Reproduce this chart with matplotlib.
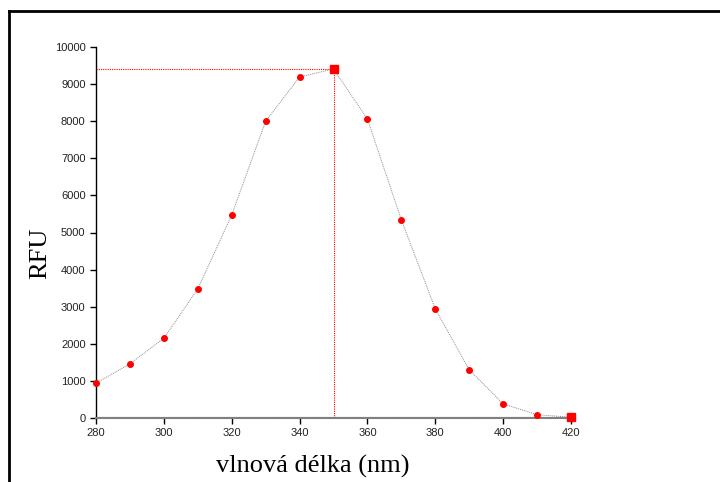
import matplotlib
matplotlib.use("Agg")
import matplotlib.pyplot as plt
from matplotlib.lines import Line2D

# wavelength (nm) vs fluorescence (RFU)
wavelength = [280, 290, 300, 310, 320, 330, 340, 350, 360, 370, 380, 390, 400, 410, 420]
rfu = [940, 1460, 2150, 3480, 5470, 8000, 9190, 9410, 8060, 5340, 2940, 1300, 380, 90, 20]

peak_x = 350
peak_y = 9410

fig = plt.figure(figsize=(7.2, 4.82), dpi=100)
ax = fig.add_axes([96 / 720, 1 - 418 / 482, 475 / 720, 371 / 482])

# outer frame (left and top edges visible)
fig.add_artist(Line2D([9 / 720, 9 / 720], [0, 1 - 11 / 482], transform=fig.transFigure,
                      color="black", lw=2))
fig.add_artist(Line2D([9 / 720, 1], [1 - 11 / 482, 1 - 11 / 482], transform=fig.transFigure,
                      color="black", lw=2))

# guide lines to the maximum
ax.plot([wavelength[0], peak_x], [peak_y, peak_y], color="red", lw=0.8, ls=(0, (1, 1)), zorder=2)
ax.plot([peak_x, peak_x], [0, peak_y], color="red", lw=0.8, ls=(0, (1, 1)), zorder=2)
ax.plot([wavelength[0], wavelength[-1]], [rfu[-1], rfu[-1]], color="red", lw=0.8,
        ls=(0, (1, 1)), zorder=2)

ax.plot(wavelength, rfu, color="#8c8c8c", lw=0.7, ls=(0, (1, 1)), zorder=3)
ax.plot(wavelength, rfu, "o", color="red", ms=4, mec="red", zorder=4, clip_on=False)
ax.plot([peak_x, wavelength[-1]], [peak_y, rfu[-1]], "s", color="red", ms=5.5, zorder=5,
        clip_on=False)

ax.set_xlim(280, 420)
ax.set_ylim(0, 10000)
ax.set_xticks(range(280, 421, 20))
ax.set_yticks(range(0, 10001, 1000))

for side in ("top", "right"):
    ax.spines[side].set_visible(False)
ax.spines["left"].set_color("black")
ax.spines["left"].set_linewidth(1)
ax.spines["bottom"].set_color("#808080")
ax.spines["bottom"].set_linewidth(1.5)

ax.tick_params(axis="both", direction="out", length=4, width=1, colors="black",
               labelsize=8)
for lbl in ax.get_xticklabels() + ax.get_yticklabels():
    lbl.set_family("Liberation Sans")
    lbl.set_color("#222222")

# axis titles placed where the original has them
fig.text(313 / 720, 1 - 466 / 482, "vlnová délka (nm)", family="Liberation Serif",
         fontsize=19, ha="center", va="center")
fig.text(40 / 720, 1 - 253 / 482, "RFU", family="Liberation Serif",
         fontsize=19, rotation=90, ha="center", va="center")

fig.savefig("out.png", dpi=100)
